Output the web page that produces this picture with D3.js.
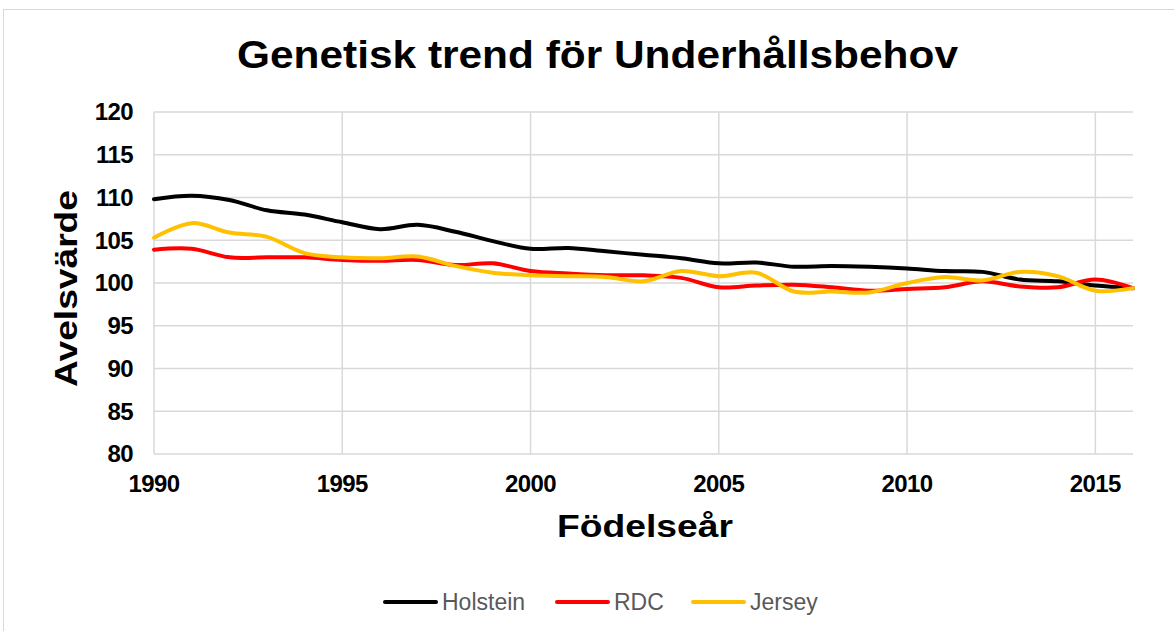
<!DOCTYPE html>
<html><head><meta charset="utf-8">
<script src="https://cdn.jsdelivr.net/npm/d3@7"></script>
<style>body{margin:0;background:#fff}svg{display:block}text{font-family:"Liberation Sans",Arial,sans-serif}</style>
</head><body>
<svg id="c" width="1174" height="631"></svg>
<script>
const years = d3.range(1990, 2017);
const holstein = [109.8,110.2,109.7,108.5,108.0,107.1,106.3,106.8,106.0,104.9,104.0,104.1,103.7,103.3,102.9,102.3,102.4,101.9,102.0,101.9,101.7,101.4,101.3,100.4,100.2,99.7,99.4];
const rdc      = [103.9,104.0,103.0,103.0,103.0,102.7,102.6,102.7,102.1,102.3,101.4,101.1,100.9,100.9,100.6,99.5,99.7,99.8,99.5,99.1,99.3,99.5,100.2,99.6,99.5,100.4,99.4];
const jersey   = [105.3,107.0,105.9,105.4,103.5,103.0,102.9,103.1,102.0,101.2,100.9,100.8,100.7,100.2,101.4,100.8,101.2,99.0,99.0,98.9,100.0,100.7,100.3,101.3,100.8,99.1,99.4];
const xTicks = [1990,1995,2000,2005,2010,2015];
const yTicks = [80,85,90,95,100,105,110,115,120];
const seriesNames = ["Holstein","RDC","Jersey"];
const seriesColors = ["#000000","#FF0000","#FFC000"];
const seriesData = [holstein, rdc, jersey];

const svg = d3.select("#c");
svg.append("rect").attr("x",3.5).attr("y",9.5).attr("width",1200).attr("height",700)
  .attr("fill","#fff").attr("stroke","#D9D9D9");

const L=154,R=1133,T=112,B=454;
const x = d3.scaleLinear().domain([1990,2016]).range([L,R]);
const y = d3.scaleLinear().domain([80,120]).range([B,T]);

const g = svg.append("g");
g.selectAll(".hg").data(yTicks).join("line")
  .attr("x1",L).attr("x2",R).attr("y1",d=>y(d)).attr("y2",d=>y(d))
  .attr("stroke","#D9D9D9").attr("stroke-width",1.5);
g.selectAll(".vg").data(xTicks).join("line")
  .attr("x1",d=>x(d)).attr("x2",d=>x(d)).attr("y1",T).attr("y2",B)
  .attr("stroke","#D9D9D9").attr("stroke-width",1.5);

g.selectAll(".yl").data(yTicks).join("text")
  .attr("x",L-21).attr("y",d=>y(d)).attr("dy","0.35em").attr("text-anchor","end")
  .attr("font-size",24).attr("font-weight","bold").attr("letter-spacing",-0.6).text(d=>d);
g.selectAll(".xl").data(xTicks).join("text")
  .attr("x",d=>x(d)).attr("y",B+38).attr("text-anchor","middle")
  .attr("font-size",24).attr("font-weight","bold").attr("letter-spacing",-0.6).text(d=>d);

const line = d3.line().x((d,i)=>x(years[i])).y(d=>y(d)).curve(d3.curveCatmullRom.alpha(0.5));
seriesData.forEach((s,k)=>{
  g.append("path").datum(s).attr("d",line).attr("fill","none")
   .attr("stroke",seriesColors[k]).attr("stroke-width",4).attr("stroke-linecap","round");
});

svg.append("text").attr("x",237).attr("y",68)
  .attr("font-size",39).attr("font-weight","bold")
  .attr("textLength",721).attr("lengthAdjust","spacingAndGlyphs")
  .text("Genetisk trend för Underhållsbehov");
svg.append("text").attr("x",557).attr("y",537)
  .attr("font-size",31).attr("font-weight","bold")
  .attr("textLength",176).attr("lengthAdjust","spacingAndGlyphs").text("Födelseår");
svg.append("text").attr("transform","translate(77,387) rotate(-90)")
  .attr("font-size",31).attr("font-weight","bold")
  .attr("textLength",197).attr("lengthAdjust","spacingAndGlyphs").text("Avelsvärde");

const legX = [383,555,691];
const lg = svg.append("g");
seriesNames.forEach((n,k)=>{
  lg.append("line").attr("x1",legX[k]+2).attr("x2",legX[k]+53).attr("y1",602).attr("y2",602)
    .attr("stroke",seriesColors[k]).attr("stroke-width",4).attr("stroke-linecap","round");
  lg.append("text").attr("x",legX[k]+59).attr("y",602).attr("dy","0.35em")
    .attr("font-size",23).attr("fill","#595959").text(n);
});
</script>
</body></html>
